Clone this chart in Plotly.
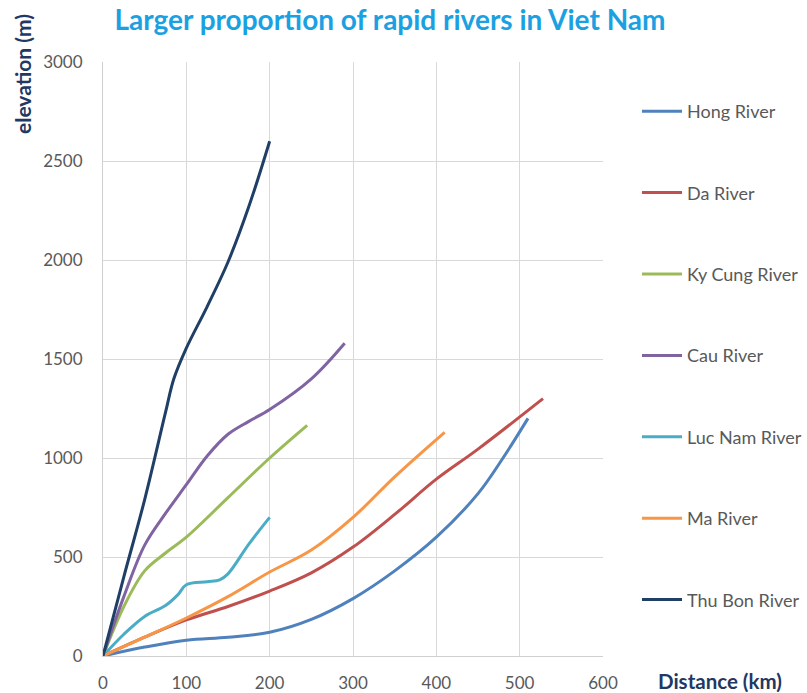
import plotly.graph_objects as go

# River long profiles: distance from mouth (km) vs elevation (m)
hong_km = [0, 50, 100, 150, 200, 250, 300, 350, 400, 450, 480, 510]
hong_m = [0, 45, 80, 95, 120, 185, 290, 430, 600, 820, 1000, 1200]

da_km = [0, 50, 100, 150, 200, 250, 300, 350, 400, 450, 528]
da_m = [0, 95, 182, 250, 328, 420, 550, 715, 893, 1045, 1300]

kycung_km = [0, 25, 50, 75, 100, 150, 200, 245]
kycung_m = [0, 250, 430, 520, 600, 800, 1000, 1165]

cau_km = [0, 25, 50, 75, 100, 125, 150, 175, 200, 250, 290]
cau_m = [0, 300, 560, 720, 865, 1010, 1120, 1185, 1245, 1400, 1580]

lucnam_km = [0, 25, 50, 75, 90, 100, 125, 140, 150, 175, 200]
lucnam_m = [0, 110, 200, 255, 310, 360, 375, 385, 415, 565, 700]

ma_km = [0, 50, 100, 150, 200, 250, 300, 350, 410]
ma_m = [0, 95, 192, 300, 424, 535, 700, 905, 1130]

thubon_km = [0, 25, 50, 75, 85, 100, 125, 150, 175, 200]
thubon_m = [0, 400, 790, 1230, 1400, 1555, 1765, 1990, 2270, 2600]

series = [
    ("Hong River", hong_km, hong_m, "#4F81BD"),
    ("Da River", da_km, da_m, "#C0504D"),
    ("Ky Cung River", kycung_km, kycung_m, "#9BBB59"),
    ("Cau River", cau_km, cau_m, "#8064A2"),
    ("Luc Nam River", lucnam_km, lucnam_m, "#4BACC6"),
    ("Ma River", ma_km, ma_m, "#F79646"),
    ("Thu Bon River", thubon_km, thubon_m, "#1F3F66"),
]

x_ticks = [0, 100, 200, 300, 400, 500, 600]
y_ticks = [0, 500, 1000, 1500, 2000, 2500, 3000]

FONT = "Lato"
NAVY = "#1F3864"
TICK_GREY = "#595959"

fig = go.Figure()
for i, (name, xs, ys, color) in enumerate(series):
    fig.add_trace(go.Scatter(
        x=xs, y=ys, name=name, mode="lines",
        line=dict(color=color, width=3, shape="spline", smoothing=1.0),
        legendgroup=f"g{i}",
    ))

fig.update_layout(
    width=807, height=693,
    margin=dict(l=103, r=204, t=62, b=37, autoexpand=False),
    paper_bgcolor="white", plot_bgcolor="white",
    font=dict(family=FONT, size=17, color=TICK_GREY),
    title=dict(
        text="<b>Larger proportion of rapid rivers in Viet Nam</b>",
        x=390 / 807, xanchor="center", y=1 - 20 / 693, yanchor="middle",
        font=dict(family=FONT, size=28, color="#1BA1E2"),
    ),
    xaxis=dict(
        range=[0, 600], tickvals=x_ticks, showgrid=True, gridcolor="#D9D9D9",
        gridwidth=1, zeroline=False, showline=True, linecolor="#D0D0D0",
        ticks="", tickfont=dict(size=17, color=TICK_GREY), fixedrange=True,
        ticklabelstandoff=12, automargin=False,
    ),
    yaxis=dict(
        range=[0, 3000], tickvals=y_ticks, showgrid=True, gridcolor="#D9D9D9",
        gridwidth=1, zeroline=False, showline=True, linecolor="#D0D0D0",
        ticks="", tickfont=dict(size=17, color=TICK_GREY), fixedrange=True,
        ticklabelstandoff=16, automargin=False,
    ),
    legend=dict(
        x=1.068, xanchor="left", y=1 - (93 - 62) / 594, yanchor="top",
        tracegroupgap=55, font=dict(family=FONT, size=18, color=TICK_GREY),
        itemwidth=40, bgcolor="rgba(0,0,0,0)",
    ),
    showlegend=True,
)

fig.add_annotation(
    text="<b>elevation (m)</b>", textangle=-90,
    xref="paper", yref="paper", x=-0.162, y=1 + 50 / 594, xanchor="center", yanchor="top",
    showarrow=False, font=dict(family=FONT, size=21, color=NAVY),
)
fig.add_annotation(
    text="<b>Distance (km)</b>",
    xref="paper", yref="paper", x=1.36, y=-25 / 594, xanchor="right", yanchor="middle",
    showarrow=False, font=dict(family=FONT, size=20.5, color=NAVY),
    height=22, borderpad=0,
)

fig.write_html("out.html")
